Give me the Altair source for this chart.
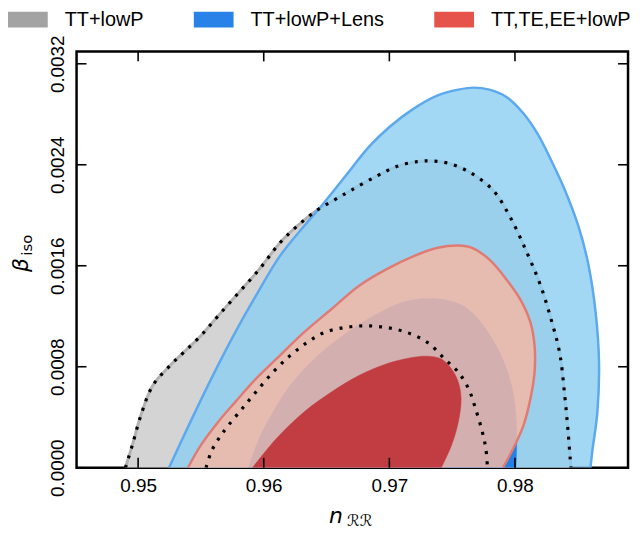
import altair as alt
import pandas as pd

# ---------------- data ----------------
x_ticks = [0.95, 0.96, 0.97, 0.98]
y_ticks = [0.0, 0.0008, 0.0016, 0.0024, 0.0032]
x_domain = [0.9451, 0.9890]
y_domain = [0.0, 0.003298]

series = ["TT+lowP", "TT+lowP+Lens", "TT,TE,EE+lowP"]
series_colors = ["#a3a3a3", "#2882e8", "#e5534b"]

# TT+lowP, 95% contour (dotted outer curve, gray fill)
gray95_x = [0.94899, 0.94954, 0.95022, 0.95117, 0.95254, 0.95363, 0.95500, 0.95637,
            0.95801, 0.95964, 0.96128, 0.96265, 0.96429, 0.96566, 0.96702, 0.96893,
            0.97057, 0.97221, 0.97331, 0.97467, 0.97631, 0.97822, 0.97959, 0.98096,
            0.98205, 0.98287, 0.98355, 0.98396, 0.98423, 0.98445]
gray95_y = [0.0, 0.000179, 0.000415, 0.000652, 0.000809, 0.000914, 0.001046, 0.001203,
            0.001387, 0.001571, 0.001781, 0.001913, 0.002044, 0.002123, 0.002202, 0.002307,
            0.002386, 0.002425, 0.002430, 0.002412, 0.002346, 0.002202, 0.001991, 0.001702,
            0.001440, 0.001177, 0.000914, 0.000573, 0.000284, 0.0]

# TT+lowP, 68% contour (dotted inner curve)
gray68_x = [0.95541, 0.95582, 0.95650, 0.95719, 0.95828, 0.95937, 0.96074, 0.96210,
            0.96347, 0.96484, 0.96648, 0.96811, 0.96975, 0.97139, 0.97303, 0.97440,
            0.97549, 0.97631, 0.97686, 0.97740, 0.97768, 0.97781]
gray68_y = [0.0, 0.000126, 0.000244, 0.000336, 0.000468, 0.000599, 0.000757, 0.000888,
            0.000993, 0.001072, 0.001111, 0.001124, 0.001111, 0.001072, 0.000993, 0.000862,
            0.000757, 0.000625, 0.000468, 0.000284, 0.000152, 0.0]

# TT+lowP+Lens, 95% contour
blue95_x = [0.95246, 0.95391, 0.95582, 0.95773, 0.95937, 0.96128, 0.96320, 0.96456,
            0.96648, 0.96839, 0.97003, 0.97194, 0.97385, 0.97549, 0.97672, 0.97795,
            0.97932, 0.98068, 0.98178, 0.98287, 0.98396, 0.98505, 0.98587, 0.98642,
            0.98669, 0.98656, 0.98615, 0.98601]
blue95_y = [0.0, 0.000310, 0.000704, 0.001072, 0.001361, 0.001676, 0.001913, 0.002070,
            0.002307, 0.002543, 0.002701, 0.002845, 0.002950, 0.002995, 0.003011, 0.002995,
            0.002937, 0.002806, 0.002648, 0.002438, 0.002202, 0.001913, 0.001597, 0.001230,
            0.000835, 0.000441, 0.000126, 0.0]

# TT+lowP+Lens, 68% contour
blue68_x = [0.95880, 0.95964, 0.96074, 0.96210, 0.96402, 0.96593, 0.96784, 0.96975,
            0.97139, 0.97303, 0.97413, 0.97549, 0.97658, 0.97768, 0.97877, 0.97959,
            0.98000, 0.98014, 0.98008]
blue68_y = [0.0, 0.000231, 0.000441, 0.000652, 0.000862, 0.001020, 0.001151, 0.001256,
            0.001320, 0.001340, 0.001335, 0.001300, 0.001230, 0.001098, 0.000914, 0.000704,
            0.000494, 0.000231, 0.0]

# TT,TE,EE+lowP, 95% contour
red95_x = [0.95396, 0.95500, 0.95637, 0.95773, 0.95937, 0.96128, 0.96320, 0.96538,
           0.96757, 0.96975, 0.97194, 0.97385, 0.97549, 0.97658, 0.97795, 0.97932,
           0.98041, 0.98123, 0.98156, 0.98156, 0.98123, 0.98068, 0.97986, 0.97904]
red95_y = [0.0, 0.000179, 0.000363, 0.000520, 0.000704, 0.000888, 0.001072, 0.001256,
           0.001440, 0.001571, 0.001676, 0.001742, 0.001760, 0.001742, 0.001650, 0.001492,
           0.001335, 0.001151, 0.000967, 0.000757, 0.000546, 0.000336, 0.000152, 0.0]

# TT,TE,EE+lowP, 68% contour
red68_x = [0.95910, 0.96101, 0.96320, 0.96538, 0.96757, 0.96975, 0.97194, 0.97303,
           0.97413, 0.97495, 0.97549, 0.97571, 0.97549, 0.97495, 0.97413]
red68_y = [0.0, 0.000231, 0.000441, 0.000599, 0.000730, 0.000822, 0.000875, 0.000883,
           0.000862, 0.000783, 0.000678, 0.000546, 0.000363, 0.000179, 0.0]

title_text = ["n", "\u211b\u211b", "\u03b2", "iso"]

# ---------------- chart ----------------
W, H = 555, 419
FONT = "Liberation Sans"

X = alt.X("x:Q", scale=alt.Scale(domain=x_domain, nice=False, zero=False),
          axis=alt.Axis(values=x_ticks, format=".2f", title=None, grid=False, domain=False,
                        ticks=False, tickSize=0, labelFontSize=19, labelFont=FONT,
                        labelColor="black", labelPadding=24, labelBaseline="alphabetic",
                        labelFlush=False, labelOverlap=False))
Y = alt.Y("y:Q", scale=alt.Scale(domain=y_domain, nice=False, zero=False),
          axis=alt.Axis(values=y_ticks, format=".4f", title=None, grid=False, domain=False,
                        ticks=False, tickSize=0, labelFontSize=19, labelFont=FONT,
                        labelColor="black", labelAngle=270, labelAlign="center",
                        labelBaseline="alphabetic", labelPadding=13,
                        labelFlush=False, labelOverlap=False))


def poly(xs, ys):
    return pd.DataFrame({"x": xs, "y": ys, "i": list(range(len(xs)))})


def filled(xs, ys, fill, fill_opacity, stroke, stroke_width):
    return alt.Chart(poly(xs, ys)).mark_line(
        fill=fill, fillOpacity=fill_opacity, stroke=stroke, strokeWidth=stroke_width,
        interpolate="catmull-rom", clip=True
    ).encode(x=X, y=Y, order="i:Q")


def dotted(xs, ys):
    return alt.Chart(poly(xs, ys)).mark_line(
        color="black", strokeWidth=3.2, strokeDash=[3, 7], strokeCap="butt",
        interpolate="catmull-rom", clip=True
    ).encode(x=X, y=Y, order="i:Q")


gray95 = filled(gray95_x, gray95_y, "#d4d4d4", 1.0, "#b2b2b2", 3.0)
blue95 = filled(blue95_x, blue95_y, "#8ccef2", 0.8, "#5ca9ee", 2.5)
blue68 = filled(blue68_x, blue68_y, "#2181e6", 1.0, "#2181e6", 0.5)
red95 = filled(red95_x, red95_y, "#f5b7a4", 0.84, "#e07b74", 2.5)
red68 = filled(red68_x, red68_y, "#c13d41", 1.0, "#c13d41", 0.5)
dot95 = dotted(gray95_x, gray95_y)
dot68 = dotted(gray68_x, gray68_y)

xt = pd.DataFrame({"x": x_ticks})
yt = pd.DataFrame({"y": y_ticks})
tick_style = dict(color="black", strokeWidth=1.6)
ticks_bottom = alt.Chart(xt).mark_rule(**tick_style).encode(x=X, y=alt.value(H), y2=alt.value(H - 10))
ticks_top = alt.Chart(xt).mark_rule(**tick_style).encode(x=X, y=alt.value(0), y2=alt.value(10))
ticks_left = alt.Chart(yt).mark_rule(**tick_style).encode(y=Y, x=alt.value(0), x2=alt.value(10))
ticks_right = alt.Chart(yt).mark_rule(**tick_style).encode(y=Y, x=alt.value(W), x2=alt.value(W - 10))

# legend (points lie outside the domain and are clipped; only the legend shows)
leg_df = pd.DataFrame({"series": series, "x": [0.90] * 3, "y": [-1.0] * 3})
legend_layer = alt.Chart(leg_df).mark_point(filled=True, opacity=1, clip=True).encode(
    x=X, y=Y,
    color=alt.Color("series:N", scale=alt.Scale(domain=series, range=series_colors),
                    legend=alt.Legend(orient="none", legendX=-59, legendY=-42,
                                      direction="horizontal", title=None,
                                      symbolType="M-2,-0.8H2V0.8H-2Z", symbolSize=400,
                                      symbolStrokeWidth=0, symbolOpacity=1,
                                      labelFontSize=20, labelFont=FONT, labelColor="black",
                                      labelOffset=27, columnPadding=50, padding=0,
                                      labelLimit=400))
)

# axis titles
t_n = alt.Chart(pd.DataFrame({"t": [title_text[0]]})).mark_text(
    fontSize=22, font="DejaVu Sans", fontStyle="italic", align="center", baseline="alphabetic"
).encode(x=alt.value(261), y=alt.value(475), text="t:N")
t_rr = alt.Chart(pd.DataFrame({"t": [title_text[1]]})).mark_text(
    fontSize=16, font="DejaVu Sans", align="center", baseline="alphabetic"
).encode(x=alt.value(285), y=alt.value(478), text="t:N")
t_beta = alt.Chart(pd.DataFrame({"t": [title_text[2]]})).mark_text(
    fontSize=22, font="DejaVu Sans", fontStyle="italic", align="center", baseline="middle", angle=270
).encode(x=alt.value(-56), y=alt.value(215), text="t:N")
t_iso = alt.Chart(pd.DataFrame({"t": [title_text[3]]})).mark_text(
    fontSize=15, font="DejaVu Sans", align="center", baseline="middle", angle=270
).encode(x=alt.value(-50), y=alt.value(195), text="t:N")

chart = alt.layer(
    gray95, blue95, blue68, red95, red68, dot95, dot68,
    ticks_bottom, ticks_top, ticks_left, ticks_right,
    legend_layer, t_n, t_rr, t_beta, t_iso
).properties(
    width=W, height=H,
    padding={"left": 69, "top": 42, "right": 4, "bottom": 63},
    autosize=alt.AutoSizeParams(type="none"),
).configure_view(stroke="black", strokeWidth=2.5)

chart.save("out.html", embed_options={"renderer": "svg", "actions": False})
